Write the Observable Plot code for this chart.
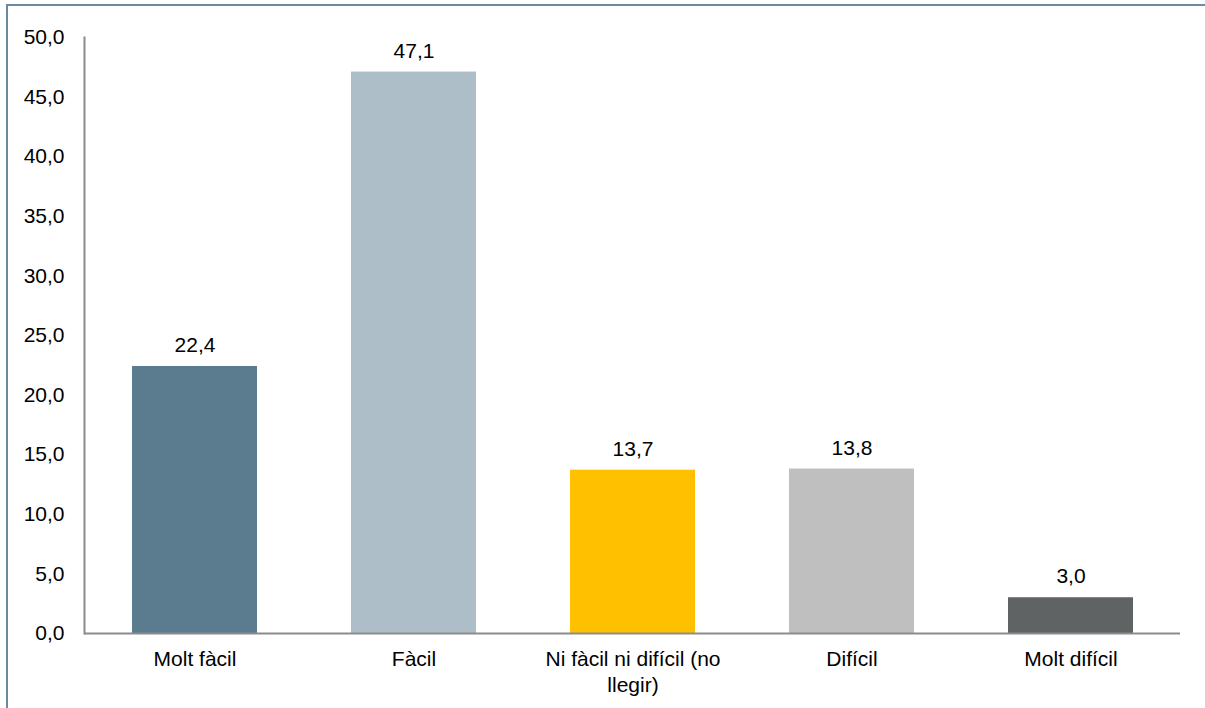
<!DOCTYPE html>
<html>
<head>
<meta charset="utf-8">
<script src="https://cdn.jsdelivr.net/npm/d3@7"></script>
<script src="https://cdn.jsdelivr.net/npm/@observablehq/plot@0.6"></script>
<style>
  html, body { margin: 0; padding: 0; background: #fff; }
  body { width: 1205px; height: 708px; position: relative; overflow: hidden; font-family: "Liberation Sans", Arial, sans-serif; }
  #frame { position: absolute; left: 6px; top: 4px; width: 1210px; height: 720px; border-left: 2px solid #6a8aa0; border-top: 2px solid #6a8aa0; box-sizing: border-box; }
  #chart { position: absolute; left: 0; top: 0; }
</style>
</head>
<body>
<div id="frame"></div>
<div id="chart"></div>
<script>
const categories = ["Molt fàcil", "Fàcil", "Ni fàcil ni difícil (no llegir)", "Difícil", "Molt difícil"];
const values = [22.4, 47.1, 13.7, 13.8, 3.0];
const colors = ["#5b7b8e", "#adbec8", "#ffc000", "#bfbfbf", "#5f6363"];
const yTicks = [0, 5, 10, 15, 20, 25, 30, 35, 40, 45, 50];

const data = categories.map((c, i) => ({category: c, value: values[i], color: colors[i]}));
const fmt = v => d3.format(".1f")(v).replace(".", ",");
const labelLines = {"Ni fàcil ni difícil (no llegir)": "Ni fàcil ni difícil (no\nllegir)"};

const chart = Plot.plot({
  width: 1205,
  height: 708,
  marginLeft: 84,
  marginRight: 25,
  marginTop: 37,
  marginBottom: 75,
  style: {fontFamily: "Liberation Sans, Arial, sans-serif", fontSize: "21px", color: "#000", background: "transparent"},
  x: {domain: categories, paddingInner: 0.43, paddingOuter: 0.215, label: null},
  y: {domain: [0, 50], label: null},
  marks: [
    Plot.barY(data, {x: "category", y: "value", fill: "color"}),
    Plot.text(data, {x: "category", y: "value", text: d => fmt(d.value), dy: -21, fill: "#000", fontSize: 21}),
    Plot.axisY({ticks: yTicks, tickFormat: fmt, tickSize: 0, tickPadding: 20, fontSize: 21, label: null, fill: "#000"}),
    Plot.axisX({tickSize: 0, tickPadding: 14, fontSize: 21, label: null, fill: "#000", tickFormat: d => labelLines[d] ?? d, lineHeight: 1.25}),
    Plot.ruleY([0], {stroke: "#8c8c8c", strokeWidth: 2}),
    Plot.frame({anchor: "left", stroke: "#8c8c8c", strokeWidth: 2})
  ]
});
document.getElementById("chart").appendChild(chart);
</script>
</body>
</html>
